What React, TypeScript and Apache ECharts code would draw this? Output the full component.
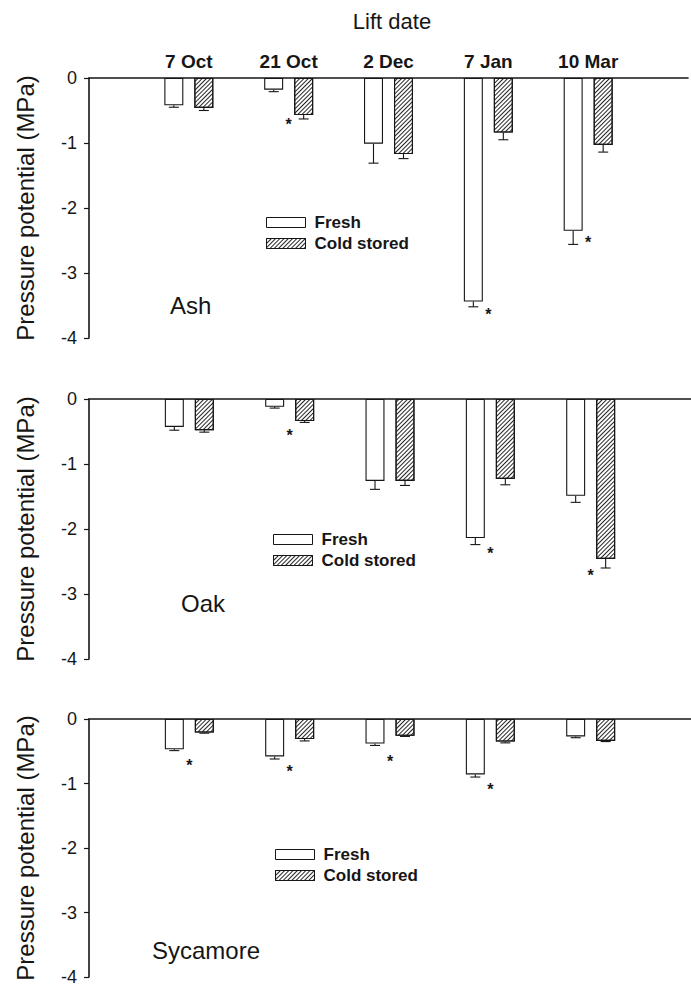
import React, { useEffect, useRef } from "react";
import * as echarts from "echarts";

// ---- Data ----
const CATEGORIES = ["7 Oct", "21 Oct", "2 Dec", "7 Jan", "10 Mar"];
const Y_TICKS = [0, -1, -2, -3, -4];

const ASH_FRESH = [-0.42, -0.18, -1.01, -3.44, -2.35];
const ASH_FRESH_ERR = [0.03, 0.03, 0.3, 0.08, 0.21];
const ASH_COLD = [-0.46, -0.57, -1.17, -0.84, -1.03];
const ASH_COLD_ERR = [0.04, 0.06, 0.07, 0.11, 0.11];
const ASH_STARS: [number, number][] = [[1, -0.65], [3, -3.58], [4, -2.47]];

const OAK_FRESH = [-0.43, -0.12, -1.26, -2.14, -1.49];
const OAK_FRESH_ERR = [0.05, 0.02, 0.13, 0.1, 0.1];
const OAK_COLD = [-0.48, -0.34, -1.26, -1.23, -2.46];
const OAK_COLD_ERR = [0.03, 0.02, 0.07, 0.09, 0.14];
const OAK_STARS: [number, number][] = [[1, -0.5], [3, -2.32], [4, -2.65]];

const SYC_FRESH = [-0.47, -0.58, -0.38, -0.86, -0.27];
const SYC_FRESH_ERR = [0.02, 0.04, 0.03, 0.04, 0.02];
const SYC_COLD = [-0.21, -0.31, -0.26, -0.35, -0.34];
const SYC_COLD_ERR = [0.01, 0.03, 0.01, 0.02, 0.01];
const SYC_STARS: [number, number][] = [[0, -0.66], [1, -0.75], [2, -0.59], [3, -1.03]];

const SPECIES = ["Ash", "Oak", "Sycamore"];
const SERIES_NAMES = ["Fresh", "Cold stored"];
const X_TITLE = "Lift date";
const Y_TITLE = "Pressure potential (MPa)";

const PANELS = [
  { name: SPECIES[0], fresh: ASH_FRESH, freshErr: ASH_FRESH_ERR, cold: ASH_COLD, coldErr: ASH_COLD_ERR, stars: ASH_STARS },
  { name: SPECIES[1], fresh: OAK_FRESH, freshErr: OAK_FRESH_ERR, cold: OAK_COLD, coldErr: OAK_COLD_ERR, stars: OAK_STARS },
  { name: SPECIES[2], fresh: SYC_FRESH, freshErr: SYC_FRESH_ERR, cold: SYC_COLD, coldErr: SYC_COLD_ERR, stars: SYC_STARS },
];

const FONT = '"Liberation Sans", Arial, Helvetica, sans-serif';
const INK = "#161616";

export default function App() {
  const ref = useRef<HTMLDivElement>(null);

  useEffect(() => {
    if (!ref.current) return;
    const chart = echarts.init(ref.current, undefined, { renderer: "svg" });

    // layout
    const gridTops = [78, 399, 719];
    const gridH = 260;
    const gridLeft = 89;
    const gridW = 606;
    const barW = 19;
    const gapPx = 11;
    const half = (barW + gapPx) / 2;
    const legendPos = [
      { left: 266, top: 214 },
      { left: 273, top: 531 },
      { left: 275, top: 846 },
    ];
    const labelPos = [
      { x: 170, y: 307 },
      { x: 181, y: 605 },
      { x: 152, y: 952 },
    ];

    const axisCats = ["", ...CATEGORIES, ""];
    const pad = (arr: number[]) => ["-", ...arr, "-"];

    const grids: any[] = [];
    const xAxes: any[] = [];
    const yAxes: any[] = [];
    const series: any[] = [];
    const legends: any[] = [];
    const graphics: any[] = [];

    const hatch = {
      symbol: "rect",
      symbolSize: 1,
      symbolKeepAspect: false,
      color: "#262626",
      backgroundColor: "#ffffff",
      dashArrayX: [1, 0],
      dashArrayY: [0.9, 2.0],
      rotation: -Math.PI / 4,
    };

    PANELS.forEach((p, i) => {
      grids.push({ left: gridLeft, top: gridTops[i], width: gridW, height: gridH });
      xAxes.push({
        gridIndex: i,
        type: "category",
        data: axisCats,
        boundaryGap: false,
        position: "top",
        axisLine: { show: true, onZero: false, lineStyle: { color: INK, width: 1.6 } },
        axisTick: { show: false },
        axisLabel: {
          show: i === 0,
          interval: 0,
          margin: 7,
          color: INK,
          fontFamily: FONT,
          fontWeight: "bold",
          fontSize: 19,
        },
        splitLine: { show: false },
      });
      yAxes.push({
        gridIndex: i,
        type: "value",
        min: Y_TICKS[Y_TICKS.length - 1],
        max: Y_TICKS[0],
        interval: 1,
        name: Y_TITLE,
        nameLocation: "middle",
        nameRotate: 90,
        nameGap: 52,
        nameTextStyle: { fontFamily: FONT, fontSize: 24, color: INK },
        axisLine: { show: true, lineStyle: { color: INK, width: 1.6 } },
        axisTick: { show: true, inside: false, length: 5, lineStyle: { color: INK, width: 1.2 } },
        axisLabel: { margin: 12, color: INK, fontFamily: FONT, fontSize: 18 },
        splitLine: { show: false },
      });

      series.push({
        name: SERIES_NAMES[0],
        type: "bar",
        xAxisIndex: i,
        yAxisIndex: i,
        data: pad(p.fresh),
        barWidth: barW,
        barGap: `${(gapPx / barW) * 100}%`,
        itemStyle: { color: "#ffffff", borderColor: INK, borderWidth: 1.1 },
      });
      series.push({
        name: SERIES_NAMES[1],
        type: "bar",
        xAxisIndex: i,
        yAxisIndex: i,
        data: pad(p.cold),
        barWidth: barW,
        barGap: `${(gapPx / barW) * 100}%`,
        itemStyle: {
          color: "#ffffff",
          borderColor: INK,
          borderWidth: 1.1,
          decal: hatch,
        },
      });

      const errData: number[][] = [];
      p.fresh.forEach((v, k) => errData.push([k + 1, v, v - p.freshErr[k], -1]));
      p.cold.forEach((v, k) => errData.push([k + 1, v, v - p.coldErr[k], 1]));
      series.push({
        type: "custom",
        xAxisIndex: i,
        yAxisIndex: i,
        clip: false,
        silent: true,
        data: errData,
        renderItem: (params: any, api: any) => {
          const c = api.value(0);
          const p1 = api.coord([c, api.value(1)]);
          const p2 = api.coord([c, api.value(2)]);
          const x = p1[0] + api.value(3) * half;
          const st = { stroke: INK, lineWidth: 1.1 };
          return {
            type: "group",
            children: [
              { type: "line", shape: { x1: x, y1: p1[1], x2: x, y2: p2[1] }, style: st },
              { type: "line", shape: { x1: x - 5, y1: p2[1], x2: x + 5, y2: p2[1] }, style: st },
            ],
          };
        },
      });

      series.push({
        type: "custom",
        xAxisIndex: i,
        yAxisIndex: i,
        clip: false,
        silent: true,
        data: p.stars.map(([k, v]) => [k + 1, v]),
        renderItem: (params: any, api: any) => {
          const pt = api.coord([api.value(0), api.value(1)]);
          return {
            type: "text",
            x: pt[0],
            y: pt[1] + 4,
            style: {
              text: "*",
              fontFamily: FONT,
              fontSize: 16,
              fontWeight: "bold",
              fill: INK,
              align: "center",
              verticalAlign: "middle",
            },
          };
        },
      });

      legends.push({
        orient: "vertical",
        left: legendPos[i].left,
        top: legendPos[i].top,
        padding: 0,
        itemWidth: 39,
        itemHeight: 10,
        itemGap: 4,
        icon: "rect",
        selectedMode: false,
        data: SERIES_NAMES,
        itemStyle: { borderWidth: 1 },
        textStyle: {
          fontFamily: FONT,
          fontWeight: "bold",
          fontSize: 17,
          color: INK,
          padding: [0, 0, 0, 4],
        },
      });

      graphics.push({
        type: "text",
        left: labelPos[i].x,
        top: labelPos[i].y - 14,
        style: { text: p.name, fontFamily: FONT, fontSize: 24, fill: INK },
      });
    });

    graphics.push({
      type: "text",
      x: 392,
      y: 21,
      style: {
        text: X_TITLE,
        fontFamily: FONT,
        fontSize: 22,
        fill: INK,
        align: "center",
        verticalAlign: "middle",
      },
    });

    chart.setOption({
      animation: false,
      backgroundColor: "#ffffff",
      grid: grids,
      xAxis: xAxes,
      yAxis: yAxes,
      legend: legends,
      series,
      graphic: graphics,
    });

    return () => chart.dispose();
  }, []);

  return (
    <div
      ref={ref}
      style={{ position: "absolute", left: 0, top: 0, width: 691, height: 986, overflow: "hidden" }}
    />
  );
}
